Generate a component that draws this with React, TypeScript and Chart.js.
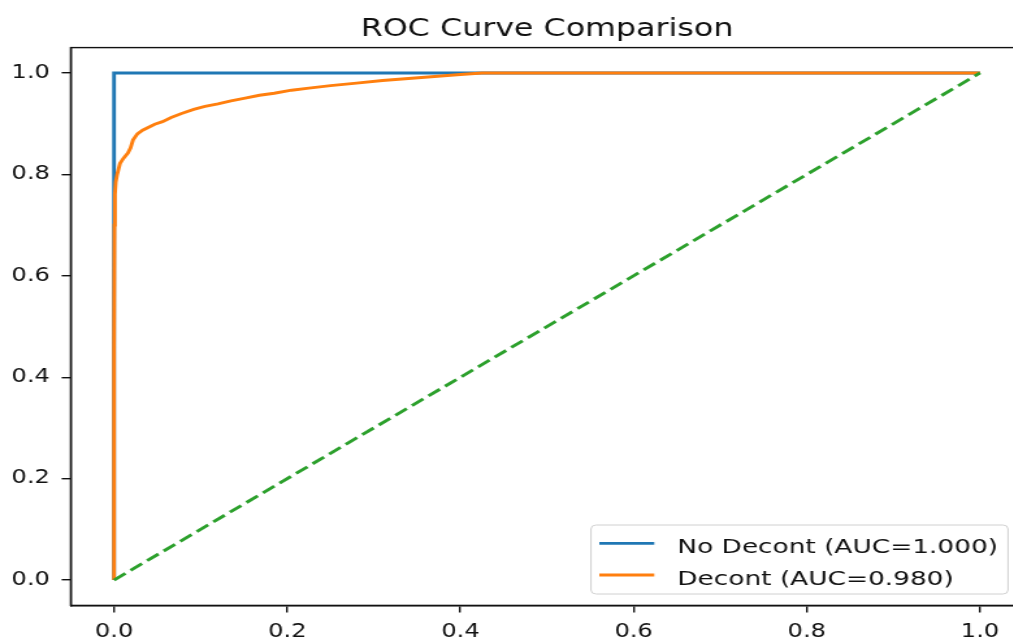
import React, { useEffect, useRef } from "react";
import { Chart, registerables } from "chart.js";

Chart.register(...registerables);

const TITLE = "ROC Curve Comparison";
const X_TICKS = [0, 0.2, 0.4, 0.6, 0.8, 1.0];
const Y_TICKS = [0, 0.2, 0.4, 0.6, 0.8, 1.0];

const NO_DECONT_LABEL = "No Decont (AUC=1.000)";
const NO_DECONT_FPR = [0, 0, 1];
const NO_DECONT_TPR = [0, 1, 1];

const DECONT_LABEL = "Decont (AUC=0.980)";
const DECONT_FPR = [0, 0, 0.0005, 0.001, 0.002, 0.0036, 0.007, 0.011, 0.016, 0.019, 0.022, 0.027, 0.033, 0.04, 0.047, 0.056, 0.066, 0.078, 0.092, 0.105, 0.12, 0.135, 0.15, 0.168, 0.185, 0.205, 0.225, 0.25, 0.28, 0.31, 0.34, 0.37, 0.4, 0.425, 1.0];
const DECONT_TPR = [0, 0.45, 0.7, 0.76, 0.785, 0.8, 0.822, 0.832, 0.842, 0.852, 0.868, 0.88, 0.887, 0.893, 0.899, 0.904, 0.912, 0.92, 0.928, 0.934, 0.939, 0.945, 0.95, 0.956, 0.96, 0.966, 0.97, 0.975, 0.98, 0.985, 0.989, 0.993, 0.997, 1.0, 1.0];

const CHANCE_X = [0, 1];
const CHANCE_Y = [0, 1];

const BLUE = "#1f77b4";
const ORANGE = "#ff7f0e";
const GREEN = "#2ca02c";

const STRETCH = 1.3;
const CW = 800;
const CH = 641;
const FONT = "'DejaVu Sans', sans-serif";

const pts = (xs: number[], ys: number[]) => xs.map((x, i) => ({ x, y: ys[i] }));

export default function App() {
  const ref = useRef<HTMLCanvasElement | null>(null);

  useEffect(() => {
    document.body.style.margin = "0";
    document.body.style.overflow = "hidden";
    const canvas = ref.current;
    if (!canvas) return;

    const framePlugin = {
      id: "frame",
      afterDraw(chart: any) {
        const { ctx, chartArea: a } = chart;
        ctx.save();
        ctx.strokeStyle = "#111";
        ctx.lineWidth = 1.4;
        ctx.strokeRect(a.left, a.top, a.right - a.left, a.bottom - a.top);
        ctx.fillStyle = "#111";
        ctx.font = `24.4px ${FONT}`;
        ctx.textAlign = "center";
        ctx.textBaseline = "alphabetic";
        ctx.fillText(TITLE, (a.left + a.right) / 2, 35.5);
        const bx = 454.6, by = 525, bw = 775.4 - 454.6, bh = 594 - 525, r = 4;
        ctx.beginPath();
        ctx.moveTo(bx + r, by);
        ctx.lineTo(bx + bw - r, by);
        ctx.quadraticCurveTo(bx + bw, by, bx + bw, by + r);
        ctx.lineTo(bx + bw, by + bh - r);
        ctx.quadraticCurveTo(bx + bw, by + bh, bx + bw - r, by + bh);
        ctx.lineTo(bx + r, by + bh);
        ctx.quadraticCurveTo(bx, by + bh, bx, by + bh - r);
        ctx.lineTo(bx, by + r);
        ctx.quadraticCurveTo(bx, by, bx + r, by);
        ctx.closePath();
        ctx.fillStyle = "rgba(255,255,255,0.8)";
        ctx.fill();
        ctx.strokeStyle = "#d0d0d0";
        ctx.lineWidth = 1;
        ctx.stroke();
        const items = [chart.data.datasets[0], chart.data.datasets[1]];
        const lineYs = [543.3, 575];
        const textYs = [552.5, 584.5];
        items.forEach((ds: any, i: number) => {
          ctx.beginPath();
          ctx.strokeStyle = ds.borderColor;
          ctx.lineWidth = 2.8;
          ctx.moveTo(461, lineYs[i]);
          ctx.lineTo(503.3, lineYs[i]);
          ctx.stroke();
          ctx.fillStyle = "#111";
          ctx.font = `20.3px ${FONT}`;
          ctx.textAlign = "left";
          ctx.textBaseline = "alphabetic";
          ctx.fillText(ds.label, 521, textYs[i]);
        });
        ctx.restore();
      },
    };

    const tickFont = { family: FONT, size: 18.6 };

    const chart = new Chart(canvas, {
      type: "scatter",
      data: {
        datasets: [
          {
            label: NO_DECONT_LABEL,
            data: pts(NO_DECONT_FPR, NO_DECONT_TPR),
            showLine: true,
            borderColor: BLUE,
            backgroundColor: BLUE,
            borderWidth: 2.9,
            pointRadius: 0,
            tension: 0,
            order: 2,
          },
          {
            label: DECONT_LABEL,
            data: pts(DECONT_FPR, DECONT_TPR),
            showLine: true,
            borderColor: ORANGE,
            backgroundColor: ORANGE,
            borderWidth: 2.9,
            pointRadius: 0,
            tension: 0,
            order: 1,
          },
          {
            label: "Chance",
            data: pts(CHANCE_X, CHANCE_Y),
            showLine: true,
            borderColor: GREEN,
            backgroundColor: GREEN,
            borderWidth: 2.9,
            borderDash: [11, 5],
            pointRadius: 0,
            tension: 0,
            order: 0,
          },
        ],
      },
      options: {
        responsive: false,
        animation: false,
        devicePixelRatio: 1,
        layout: { padding: { top: 47.6, right: CW - 787.2, left: 0, bottom: 0 } },
        plugins: {
          legend: { display: false },
          title: { display: false },
          tooltip: { enabled: false },
        },
        scales: {
          x: {
            type: "linear",
            min: -0.05,
            max: 1.05,
            afterBuildTicks: (s: any) => {
              s.ticks = X_TICKS.map((v) => ({ value: v }));
            },
            afterFit: (s: any) => {
              s.height = CH - 605.4;
            },
            ticks: {
              callback: (v: any) => Number(v).toFixed(1),
              font: tickFont,
              color: "#111",
              padding: 9,
              maxRotation: 0,
              autoSkip: false,
            },
            grid: { drawOnChartArea: false, drawTicks: true, tickLength: 7, color: "#111", lineWidth: 1.4 },
            border: { display: true, color: "#111", width: 1.4 },
          },
          y: {
            type: "linear",
            min: -0.05,
            max: 1.05,
            afterBuildTicks: (s: any) => {
              s.ticks = Y_TICKS.map((v) => ({ value: v }));
            },
            afterFit: (s: any) => {
              s.width = 54.4;
            },
            ticks: {
              callback: (v: any) => Number(v).toFixed(1),
              font: tickFont,
              color: "#111",
              padding: 9,
              autoSkip: false,
            },
            grid: { drawOnChartArea: false, drawTicks: true, tickLength: 7, color: "#111", lineWidth: 1.4 },
            border: { display: true, color: "#111", width: 1.4 },
          },
        },
      },
      plugins: [framePlugin],
    } as any);

    return () => chart.destroy();
  }, []);

  return (
    <div style={{ width: 1013, height: 641, overflow: "hidden", position: "relative", background: "#fff" }}>
      <div style={{ width: CW, height: CH, transform: `scaleX(${STRETCH})`, transformOrigin: "0 0" }}>
        <canvas ref={ref} width={CW} height={CH} style={{ display: "block" }} />
      </div>
    </div>
  );
}
